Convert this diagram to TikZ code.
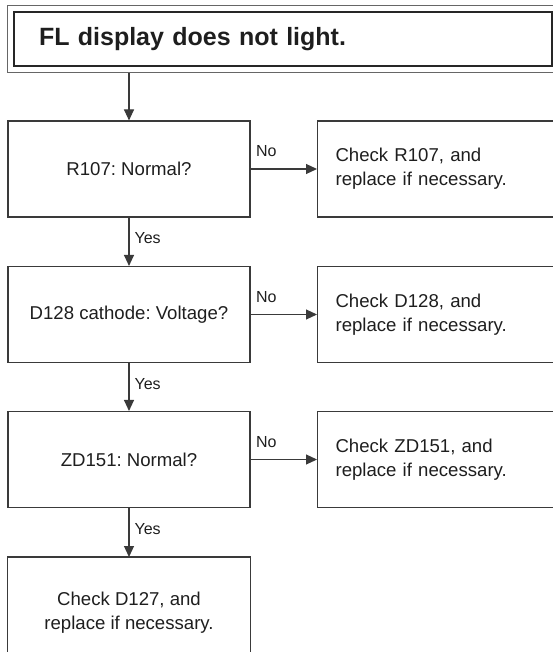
\documentclass[tikz,border=0pt]{standalone}
\usepackage{fontspec}
\setmainfont{Liberation Sans}
\usetikzlibrary{arrows.meta,fit}
\definecolor{ln}{HTML}{3A3A3A}
\definecolor{tx}{HTML}{1E1E1E}
\tikzset{
  every node/.style={text=tx},
  box/.style={draw=ln, line width=1.1pt, minimum width=242pt, minimum height=96pt, inner sep=0pt, align=center, font=\fontsize{18.6}{24}\selectfont},
  rbox/.style={draw=ln, line width=1.1pt, anchor=west, minimum height=96pt, text width=230pt, inner xsep=18pt, inner ysep=0pt, align=left, font=\fontsize{18.6}{24}\selectfont},
  openbox/.style={draw=none, anchor=north, minimum width=242pt, minimum height=110pt, inner sep=0pt, align=center, font=\fontsize{18.6}{24}\selectfont},
  titlebox/.style={draw=black!85, line width=1.1pt, minimum width=538pt, minimum height=54pt, text width=488pt, inner xsep=25pt, inner ysep=0pt, align=left, font=\fontsize{25}{30}\selectfont\bfseries},
  framebox/.style={draw=black!60, line width=1.1pt, inner sep=6pt},
  arr/.style={draw=ln, line width=1.1pt, -{Triangle[length=11pt,width=10pt]}},
  lbl/.style={font=\fontsize{16}{19}\selectfont, inner sep=2pt}
}
\begin{document}
\frenchspacing
\begin{tikzpicture}[x=1pt,y=-1pt]
\useasboundingbox (0,0) rectangle (553,652);
\clip (0,0) rectangle (553,652);
\node[titlebox] (title) at (283,39) {FL display does not light.};
\node[framebox, fit=(title)] (frame) {};
\node[box] (b1) at (129,169) {R107: Normal?};
\node[box] (b2) at (129,314.5) {D128 cathode: Voltage?};
\node[box] (b3) at (129,459.5) {ZD151: Normal?};
\node[openbox] (b4) at (129,557) {Check D127, and\\replace if necessary.};
\draw[ln, line width=1.1pt] (b4.south west) -- (b4.north west) -- (b4.north east) -- (b4.south east);
\node[rbox] (r1) at (317,169) {Check R107, and\\replace if necessary.};
\node[rbox] (r2) at (317,314.5) {Check D128, and\\replace if necessary.};
\node[rbox] (r3) at (317,459.5) {Check ZD151, and\\replace if necessary.};
\draw[arr] (frame.south -| b1.north) -- (b1.north);
\draw[arr] (b1.south) -- node[lbl, anchor=west, pos=0.43, xshift=3pt] (y1) {Yes} (b2.north);
\draw[arr] (b2.south) -- node[lbl, anchor=west, pos=0.43, xshift=3pt] (y2) {Yes} (b3.north);
\draw[arr] (b3.south) -- node[lbl, anchor=west, pos=0.43, xshift=3pt] (y3) {Yes} (b4.north);
\draw[arr] (b1.east) -- node[lbl, anchor=base west, pos=0, xshift=3pt, yshift=12pt] (n1) {No} (r1.west);
\draw[arr] (b2.east) -- node[lbl, anchor=base west, pos=0, xshift=3pt, yshift=12pt] (n2) {No} (r2.west);
\draw[arr] (b3.east) -- node[lbl, anchor=base west, pos=0, xshift=3pt, yshift=12pt] (n3) {No} (r3.west);
\end{tikzpicture}
\end{document}
